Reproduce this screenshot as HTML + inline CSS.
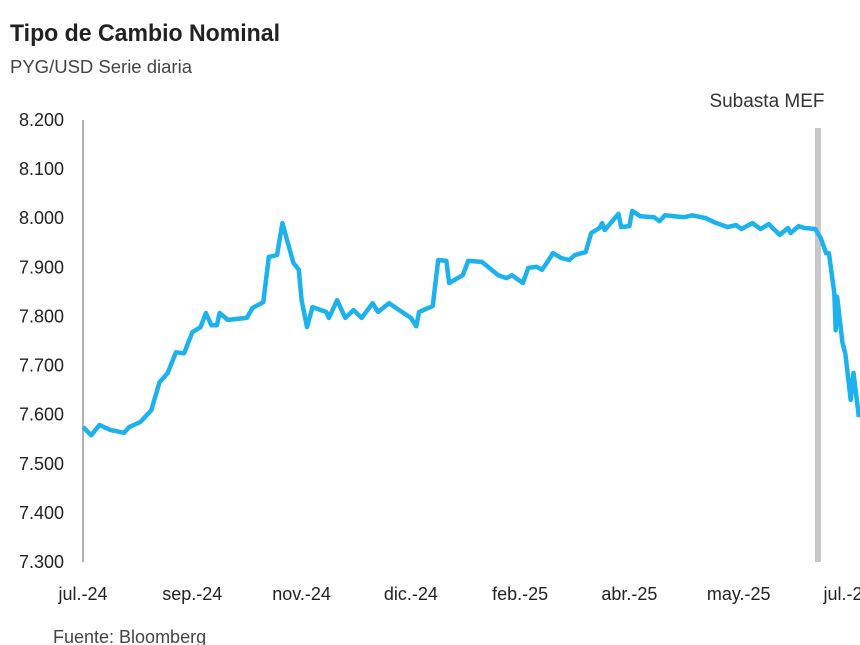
<!DOCTYPE html>
<html><head><meta charset="utf-8"><style>
html,body{margin:0;padding:0;background:#fff;}
body{width:860px;height:645px;overflow:hidden;position:relative;font-family:"Liberation Sans",sans-serif;}
</style></head><body>
<svg id="chart" width="860" height="645" xmlns="http://www.w3.org/2000/svg" style="position:absolute;left:0;top:0">
<text x="10" y="41" font-size="24" font-weight="bold" fill="#222" textLength="270" lengthAdjust="spacingAndGlyphs" font-family="Liberation Sans, sans-serif">Tipo de Cambio Nominal</text>
<text x="10" y="73" font-size="18" fill="#444" textLength="182" lengthAdjust="spacingAndGlyphs" font-family="Liberation Sans, sans-serif">PYG/USD Serie diaria</text>
<text x="53" y="643" font-size="18" fill="#444" font-family="Liberation Sans, sans-serif">Fuente: Bloomberg</text>
<g id="yticks"></g><g id="xticks"></g>
<rect x="815" y="128" width="6" height="434" fill="#c8c8c8"/>
<text x="767" y="107" font-size="19" fill="#333" text-anchor="middle" font-family="Liberation Sans, sans-serif">Subasta MEF</text>
<line x1="83" y1="120" x2="83" y2="562" stroke="#999" stroke-width="1.5"/>
<g id="series"></g>
</svg>
<script>
const days=[0,3,6,10,15,17,21,25,28,31,34,37,40,43,45,47,49,50,53,60,62,66,68,71,73,77,79,80,82,84,89,90,93,96,99,102,106,108,112,120,122,123,128,130,133,134,139,141,146,152,155,157,161,163,166,168,170,172,175,178,180,184,186,189,190,191,196,197,200,201,204,209,211,213,220,223,228,231,236,239,241,245,248,251,255,258,259,262,264,268,270,272,273,275,275.5,276,278,279,281,282,284];
const values=[7.575,7.558,7.579,7.569,7.563,7.575,7.585,7.609,7.666,7.685,7.727,7.725,7.768,7.778,7.807,7.782,7.782,7.807,7.793,7.797,7.817,7.829,7.921,7.925,7.990,7.909,7.895,7.833,7.778,7.819,7.809,7.797,7.833,7.797,7.813,7.797,7.827,7.809,7.827,7.797,7.780,7.809,7.821,7.915,7.913,7.868,7.884,7.913,7.911,7.884,7.878,7.884,7.868,7.899,7.901,7.895,7.911,7.929,7.919,7.915,7.925,7.931,7.970,7.980,7.990,7.976,8.009,7.982,7.984,8.015,8.004,8.002,7.994,8.006,8.002,8.006,8.000,7.992,7.982,7.986,7.978,7.990,7.978,7.988,7.966,7.980,7.970,7.984,7.980,7.978,7.960,7.929,7.929,7.848,7.772,7.840,7.746,7.725,7.630,7.685,7.595];
const yTicks=[7.3,7.4,7.5,7.6,7.7,7.8,7.9,8.0,8.1,8.2];
const yTickLabels=["7.300","7.400","7.500","7.600","7.700","7.800","7.900","8.000","8.100","8.200"];
const xTickDays=[0,40,80,120,160,200,240,280];
const xTickLabels=["jul.-24","sep.-24","nov.-24","dic.-24","feb.-25","abr.-25","may.-25","jul.-25"];
const NS="http://www.w3.org/2000/svg";
const xs=d=>83+d*(765/280);
const ys=v=>562-(v-7.3)*(442/0.9);
const yg=document.getElementById('yticks');
yTicks.forEach((v,i)=>{const t=document.createElementNS(NS,'text');


t.setAttribute('x',64);t.setAttribute('y',ys(v)+6);t.setAttribute('text-anchor','end');t.setAttribute('font-size','18');t.setAttribute('fill','#222');t.setAttribute('font-family','Liberation Sans, sans-serif');t.textContent=yTickLabels[i];yg.appendChild(t);});
const xg=document.getElementById('xticks');
xTickDays.forEach((d,i)=>{const t=document.createElementNS(NS,'text');


t.setAttribute('x',xs(d));t.setAttribute('y',600);t.setAttribute('text-anchor','middle');t.setAttribute('font-size','18');t.setAttribute('fill','#222');t.setAttribute('font-family','Liberation Sans, sans-serif');t.textContent=xTickLabels[i];xg.appendChild(t);});
const p=document.createElementNS(NS,'path');


p.setAttribute('d',days.map((d,i)=>(i?'L':'M')+xs(d).toFixed(1)+','+ys(values[i]).toFixed(1)).join(''));
p.setAttribute('fill','none');p.setAttribute('stroke','#1db2ec');p.setAttribute('stroke-width','4.5');p.setAttribute('stroke-linejoin','round');
document.getElementById('series').appendChild(p);
</script>
</body></html>
